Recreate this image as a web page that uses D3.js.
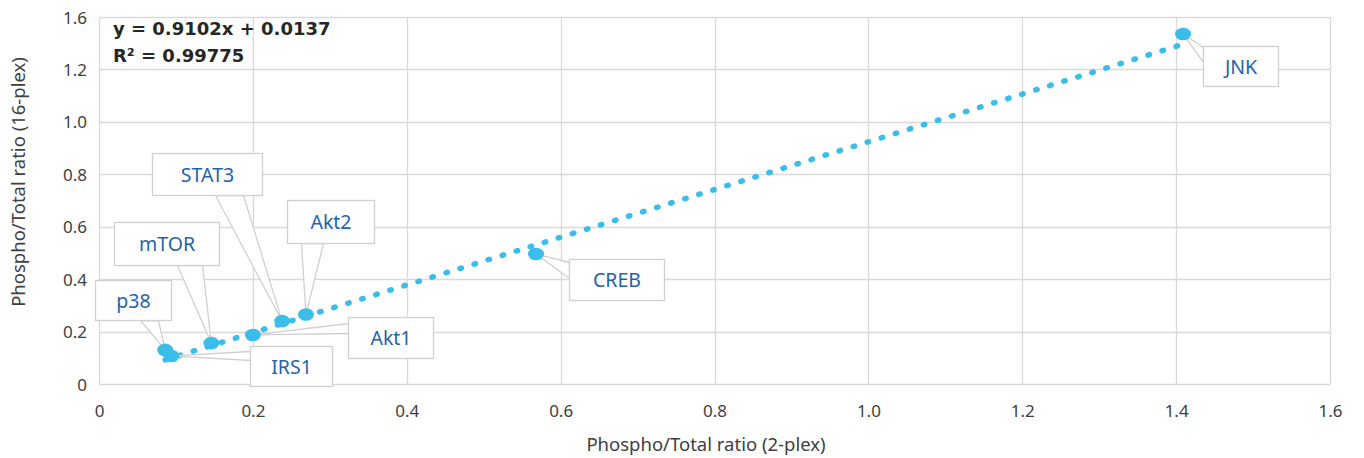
<!DOCTYPE html>
<html>
<head>
<meta charset="utf-8">
<script src="https://cdn.jsdelivr.net/npm/d3@7"></script>
<style>
  html, body { margin: 0; padding: 0; background: #fff; }
  svg { display: block; font-family: "Noto Sans", "Open Sans", sans-serif; }
</style>
</head>
<body>
<svg id="chart" width="1364" height="458"></svg>
<script>
// ---- data ----
const names   = ["JNK", "CREB", "Akt2", "STAT3", "Akt1", "mTOR", "IRS1", "p38"];
const xValues = [1.409, 0.568, 0.269, 0.238, 0.200, 0.146, 0.094, 0.086];
const yValues = [1.335, 0.496, 0.265, 0.240, 0.187, 0.156, 0.107, 0.130];
const xTicks = [0, 0.2, 0.4, 0.6, 0.8, 1.0, 1.2, 1.4, 1.6];
const xTickLabels = ["0", "0.2", "0.4", "0.6", "0.8", "1.0", "1.2", "1.4", "1.6"];
const yTicks = [0, 0.2, 0.4, 0.6, 0.8, 1.0, 1.2, 1.4];
const yTickLabels = ["0", "0.2", "0.4", "0.6", "0.8", "1.0", "1.2", "1.6"];
const slope = 0.9102, intercept = 0.0137;
const equationLines = ["y = 0.9102x + 0.0137", "R² = 0.99775"];
const xTitle = "Phospho/Total ratio (2-plex)";
const yTitle = "Phospho/Total ratio (16-plex)";

// ---- callout layout (pixel offsets of each label box from its point) ----
// [dx, dy, width, height, side, baseStart, baseEnd]
const calloutLayout = {
  "JNK":   [20, 12, 75, 40, "left", 1, 16],
  "CREB":  [33, 5, 95, 41, "left", 3, 19],
  "Akt2":  [-19, -115, 87, 43, "bottom", 14, 36],
  "STAT3": [-130, -168, 110, 42, "bottom", 63, 91],
  "Akt1":  [95, -18, 85, 41, "left", 6, 16],
  "mTOR":  [-97, -121, 105, 43, "bottom", 63, 88],
  "IRS1":  [79, -10, 82, 40, "left", 5, 14],
  "p38":   [-70, -70, 76, 40, "bottom", 45, 63]
};

const points = names.map((n, i) => ({ name: n, x: xValues[i], y: yValues[i] }));

const svg = d3.select("#chart");
const mLeft = 99, mRight = 1330, mTop = 17, mBottom = 384;

const x = d3.scaleLinear().domain([0, 1.6]).range([mLeft, mRight]);
const y = d3.scaleLinear().domain([0, 1.4]).range([mBottom, mTop]);

const gridColor = "#d9d9d9";

// gridlines
svg.append("g").selectAll("line").data(xTicks).join("line")
  .attr("x1", d => Math.round(x(d)) + 0.5).attr("x2", d => Math.round(x(d)) + 0.5)
  .attr("y1", mTop).attr("y2", mBottom)
  .attr("stroke", gridColor).attr("stroke-width", 1.3);
svg.append("g").selectAll("line").data(yTicks).join("line")
  .attr("y1", d => Math.round(y(d)) + 0.5).attr("y2", d => Math.round(y(d)) + 0.5)
  .attr("x1", mLeft).attr("x2", mRight)
  .attr("stroke", gridColor).attr("stroke-width", 1.3);

// axes labels via d3 axes
const xAxis = d3.axisBottom(x).tickValues(xTicks)
  .tickFormat((d, i) => xTickLabels[i]).tickSize(0).tickPadding(0);
const gx = svg.append("g").attr("transform", `translate(0,${mBottom + 33})`).call(xAxis);
gx.select(".domain").remove();
gx.selectAll("text").attr("font-size", 17).attr("fill", "#404040")
  .attr("font-family", "Noto Sans").attr("dy", "0");

const yAxis = d3.axisLeft(y).tickValues(yTicks)
  .tickFormat((d, i) => yTickLabels[i]).tickSize(0).tickPadding(0);
const gy = svg.append("g").attr("transform", `translate(${mLeft - 12},0)`).call(yAxis);
gy.select(".domain").remove();
gy.selectAll("text").attr("font-size", 17).attr("fill", "#404040")
  .attr("font-family", "Noto Sans").attr("dy", "0.36em");

// axis titles
svg.append("text").attr("x", 706).attr("y", 451)
  .attr("text-anchor", "middle").attr("font-size", 18.5).attr("fill", "#404040")
  .text(xTitle);
svg.append("text").attr("transform", `translate(25,182) rotate(-90)`)
  .attr("text-anchor", "middle").attr("font-size", 18.5).attr("fill", "#404040")
  .text(yTitle);

// trendline
const xMin = d3.min(xValues), xMax = d3.max(xValues);
svg.append("line")
  .attr("x1", x(xMin)).attr("y1", y(slope * xMin + intercept))
  .attr("x2", x(xMax)).attr("y2", y(slope * xMax + intercept))
  .attr("stroke", "#3bbdec").attr("stroke-width", 5.5)
  .attr("stroke-linecap", "round").attr("stroke-dasharray", "1.5 13.2");

// callouts
const labelColor = "#1f63ad";
const cg = svg.append("g");
points.forEach(p => {
  const [dx, dy, w, h, side, b0, b1] = calloutLayout[p.name];
  const px = x(p.x), py = y(p.y);
  const bx = Math.round(px + dx) + 0.5, by = Math.round(py + dy) + 0.5;
  let base;
  if (side === "left") base = [[bx, by + b0], [bx, by + b1]];
  else base = [[bx + b0, by + h], [bx + b1, by + h]];
  const g = cg.append("g");
  g.append("polygon")
    .attr("points", [base[0], [px, py], base[1]].map(q => q.join(",")).join(" "))
    .attr("fill", "#fff").attr("stroke", "#d0d0d0").attr("stroke-width", 1.3);
  g.append("rect").attr("x", bx).attr("y", by).attr("width", w).attr("height", h)
    .attr("fill", "#fff").attr("stroke", "#d0d0d0").attr("stroke-width", 1.3);
  g.append("text").attr("x", bx + w / 2).attr("y", by + h / 2)
    .attr("dy", "0.36em").attr("text-anchor", "middle")
    .attr("font-size", 19.5).attr("fill", labelColor).text(p.name);
});

// markers
svg.append("g").selectAll("ellipse").data(points).join("ellipse")
  .attr("cx", d => x(d.x)).attr("cy", d => y(d.y))
  .attr("rx", 8).attr("ry", 6.3).attr("fill", "#3bbdec");

// equation
const eq = svg.append("text").attr("font-size", 18).attr("font-weight", "bold")
  .attr("font-family", "DejaVu Sans").attr("fill", "#262626");
equationLines.forEach((t, i) => {
  eq.append("tspan").attr("x", 113).attr("y", 35 + i * 27).text(t);
});
</script>
</body>
</html>
